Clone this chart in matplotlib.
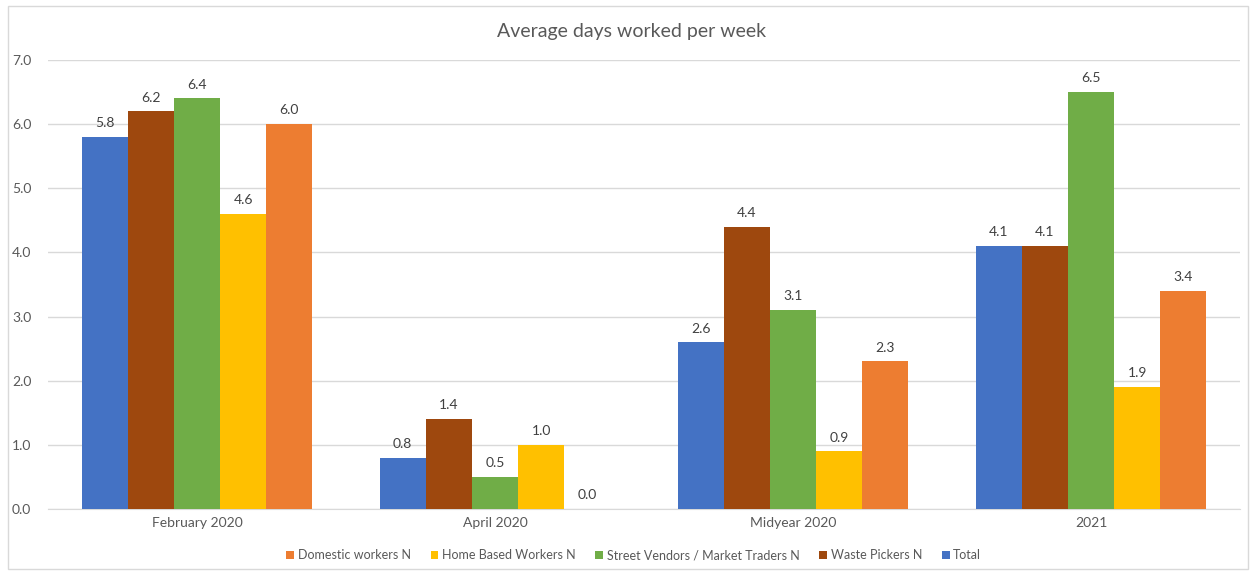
import matplotlib.pyplot as plt
import numpy as np
from matplotlib.patches import Rectangle

plt.rcParams['font.family'] = ['Lato', 'DejaVu Sans']

categories = ['February 2020', 'April 2020', 'Midyear 2020', '2021']
series_names = ['Total', 'Waste Pickers N', 'Street Vendors / Market Traders N',
                'Home Based Workers N', 'Domestic workers N']
total = [5.8, 0.8, 2.6, 4.1]
waste_pickers = [6.2, 1.4, 4.4, 4.1]
street_vendors = [6.4, 0.5, 3.1, 6.5]
home_based = [4.6, 1.0, 0.9, 1.9]
domestic = [6.0, 0.0, 2.3, 3.4]
values = [total, waste_pickers, street_vendors, home_based, domestic]
colors = ['#4472C4', '#9E480E', '#70AD47', '#FFC000', '#ED7D31']

text_color = '#595959'

fig = plt.figure(figsize=(12.5, 5.71), dpi=100)
fig.patches.append(Rectangle((0.006, 0.004), 0.992, 0.986, transform=fig.transFigure,
                             fill=False, edgecolor='#D9D9D9', linewidth=1))
ax = fig.add_axes([0.0384, 0.1086, 0.9536, 0.7864])

x = np.arange(len(categories))
width = 0.155
bars = []
for i, (name, vals, c) in enumerate(zip(series_names, values, colors)):
    offs = x + (i - 2) * width
    b = ax.bar(offs, vals, width, color=c, label=name, zorder=3)
    bars.append(b)
    for xo, v in zip(offs, vals):
        ax.text(xo, v + 0.12, f'{v:.1f}', ha='center', va='bottom',
                fontsize=10, color='#404040')

ax.set_xlim(-0.5, 3.5)
ax.set_ylim(0, 7.0)
ax.set_yticks(np.arange(0, 7.01, 1.0))
ax.set_yticklabels([f'{t:.1f}' for t in np.arange(0, 7.01, 1.0)])
ax.set_xticks(x)
ax.set_xticklabels(categories)
ax.tick_params(axis='both', length=0, colors=text_color, labelsize=10)
ax.tick_params(axis='y', pad=12)
ax.tick_params(axis='x', pad=6)
ax.grid(axis='y', color='#D9D9D9', linewidth=1, zorder=0)
for s in ['top', 'right', 'left']:
    ax.spines[s].set_visible(False)
ax.spines['bottom'].set_color('#D9D9D9')

fig.text(0.505, 0.945, 'Average days worked per week', ha='center', va='center',
         fontsize=14, color=text_color)

handles = [bars[i] for i in [4, 3, 2, 1, 0]]
labels = [series_names[i] for i in [4, 3, 2, 1, 0]]
fig.legend(handles, labels, loc='center', bbox_to_anchor=(0.507, 0.028), ncol=5,
           frameon=False, fontsize=9, handlelength=0.6, handleheight=0.6,
           columnspacing=1.6, handletextpad=0.3, labelcolor=text_color)

fig.savefig('out.png', dpi=100)
